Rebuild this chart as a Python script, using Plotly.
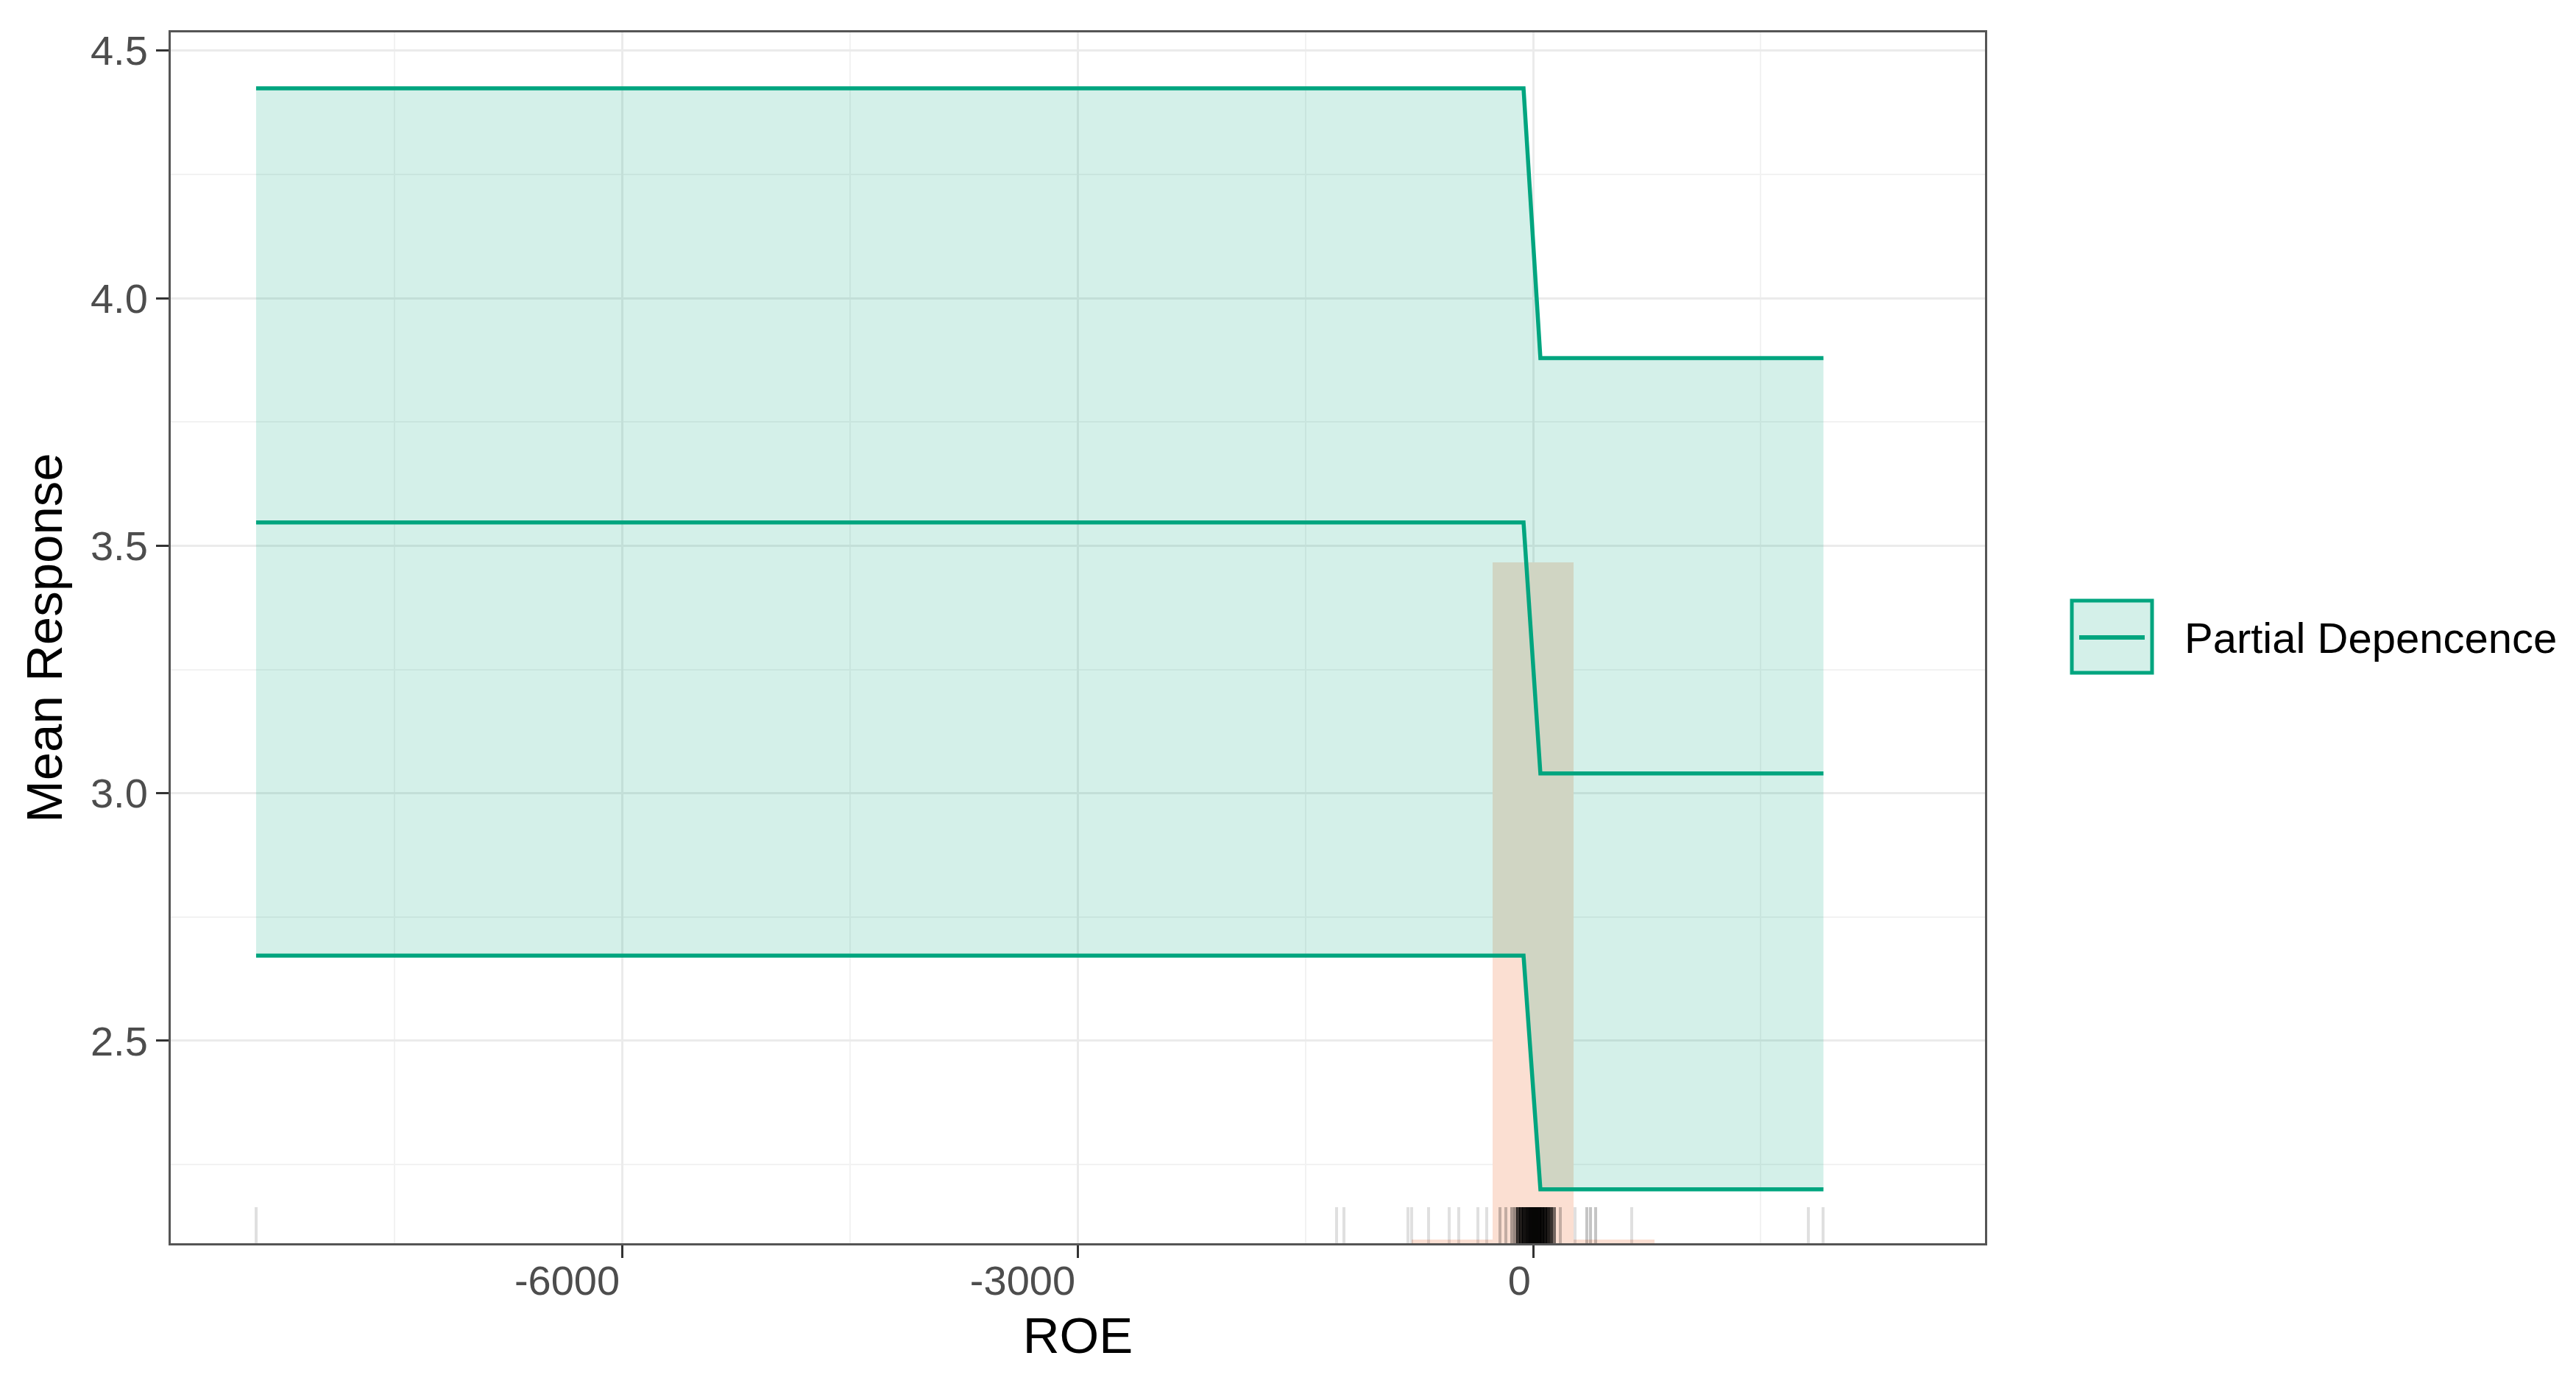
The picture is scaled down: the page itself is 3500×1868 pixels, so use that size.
import plotly.graph_objects as go

# ---------------- data ----------------
pd_x = [-8410, -63, 48, 1912]
pd_mean = [3.547, 3.547, 3.040, 3.040]
pd_upper = [4.424, 4.424, 3.879, 3.879]
pd_lower = [2.672, 2.672, 2.200, 2.200]

hist_left = [-801, -267, 267]
hist_right = [-267, 267, 801]
hist_top = [2.098, 3.466, 2.098]

rug_x = [-8410, -1294, -1246, -824, -800, -688, -553, -490, -364, -305,
         -218, -179, -141, -120, -100, -80, -60, -40, -20, 0, 20, 40, 60,
         80, 100, 120, 140, 180, 276, 354, 378, 412, 650, 1813, 1910]
rug_n = [1, 1, 1, 1, 1, 1, 1, 1, 1, 1,
         2, 2, 3, 4, 12, 16, 20, 24, 28, 30, 30, 28, 24,
         20, 16, 12, 6, 2, 1, 2, 2, 2, 1, 1, 1]

x_ticks = [-6000, -3000, 0]
x_tick_labels = ["-6000", "-3000", "0"]
y_ticks = [2.5, 3.0, 3.5, 4.0, 4.5]
y_tick_labels = ["2.5", "3.0", "3.5", "4.0", "4.5"]

x_range = [-8972, 2976]
y_range = [2.091, 4.537]

legend_label = "Partial Depencence"
x_title = "ROE"
y_title = "Mean Response"

# ---------------- style ----------------
GREEN = "#00A57F"
RIBBON = "rgba(0,165,127,0.17)"
ORANGE = "rgb(251,223,210)"
FONT = "Liberation Sans, Arial, sans-serif"
W, H = 3500, 1868
ML, MR, MT, MB = 232, 803, 44, 179
PW, PH = W - ML - MR, H - MT - MB

fig = go.Figure()

# histogram (under everything)
ybase = y_range[0]
fig.add_trace(go.Bar(
    x=[(l + r) / 2 for l, r in zip(hist_left, hist_right)],
    width=[r - l for l, r in zip(hist_left, hist_right)],
    y=[t - ybase for t in hist_top],
    base=ybase,
    marker=dict(color=ORANGE, line=dict(width=0)),
    showlegend=False, hoverinfo="skip"))

# rug
rug_len = 0.03 * (y_range[1] - y_range[0])
fig.add_trace(go.Bar(
    x=rug_x,
    y=[rug_len] * len(rug_x),
    base=ybase,
    width=22,
    marker=dict(color=["rgba(0,0,0,%.3f)" % (1 - (1 - 0.12) ** n) for n in rug_n],
                line=dict(width=0)),
    showlegend=False, hoverinfo="skip"))

# ribbon
fig.add_trace(go.Scatter(
    x=pd_x + pd_x[::-1],
    y=pd_upper + pd_lower[::-1],
    fill="toself", fillcolor=RIBBON,
    mode="lines", line=dict(width=0),
    showlegend=False, hoverinfo="skip"))

for ys in (pd_upper, pd_mean, pd_lower):
    fig.add_trace(go.Scatter(
        x=pd_x, y=ys, mode="lines",
        line=dict(color=GREEN, width=5.5),
        showlegend=False))

axis_common = dict(
    showline=True, linecolor="#555555", linewidth=3, mirror=True,
    ticks="outside", ticklen=17, tickwidth=3, tickcolor="#333333",
    gridcolor="#EBEBEB", gridwidth=2.5,
    tickfont=dict(family=FONT, size=56, color="#4D4D4D"),
    zeroline=False,
)

fig.update_xaxes(
    range=x_range, tickmode="array", tickvals=x_ticks, ticktext=x_tick_labels,
    ticklabelposition="outside left",
    minor=dict(dtick=1500, tick0=0, showgrid=True, gridcolor="#F2F2F2", gridwidth=1.5, ticks=""),
    title=dict(text=x_title, font=dict(family=FONT, size=69, color="black"), standoff=20),
    **axis_common)
fig.update_yaxes(
    range=y_range, tickmode="array", tickvals=y_ticks, ticktext=y_tick_labels,
    minor=dict(dtick=0.25, tick0=0, showgrid=True, gridcolor="#F2F2F2", gridwidth=1.5, ticks=""),
    title=dict(text=y_title, font=dict(family=FONT, size=69, color="black"), standoff=16),
    **axis_common)

# manual legend
def px_x(p):
    return (p - ML) / PW

def px_y(p):
    return (H - MB - p) / PH

fig.add_shape(type="rect", xref="paper", yref="paper",
              x0=px_x(2815), x1=px_x(2924), y0=px_y(914), y1=px_y(816),
              fillcolor=RIBBON, line=dict(color=GREEN, width=5))
fig.add_shape(type="line", xref="paper", yref="paper",
              x0=px_x(2825), x1=px_x(2914), y0=px_y(866), y1=px_y(866),
              line=dict(color=GREEN, width=6))
fig.add_annotation(xref="paper", yref="paper", x=px_x(2966), y=px_y(866),
                   text=legend_label, showarrow=False, xanchor="left", yanchor="middle",
                   font=dict(family=FONT, size=58, color="black"))

fig.update_layout(
    width=W, height=H,
    margin=dict(l=ML, r=MR, t=MT, b=MB, autoexpand=False),
    plot_bgcolor="white", paper_bgcolor="white",
    barmode="overlay", bargap=0,
    showlegend=False,
)

fig.write_html("out.html", config={"displayModeBar": False},
               post_script="document.body.style.margin='0';")
